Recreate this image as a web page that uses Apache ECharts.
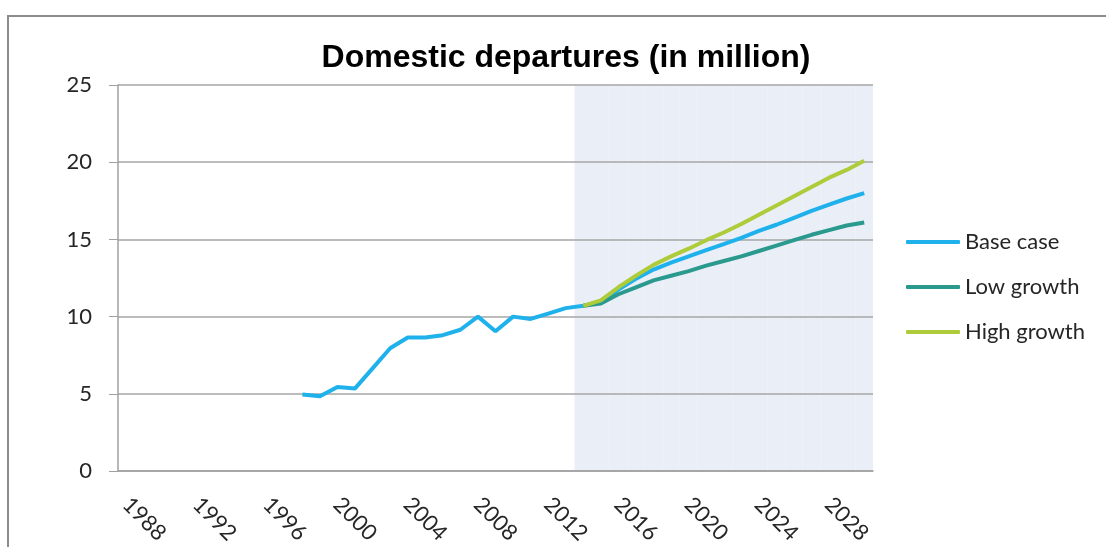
<!DOCTYPE html>
<html>
<head>
<meta charset="utf-8">
<script src="https://cdn.jsdelivr.net/npm/echarts@6/dist/echarts.min.js"></script>
<style>
  html, body { margin: 0; padding: 0; background: #fff; }
  #main { width: 1106px; height: 547px; }
</style>
</head>
<body>
<div id="main"></div>
<script>
// years on the x axis
var years = ['1987', '1988', '1989', '1990', '1991', '1992', '1993', '1994', '1995', '1996',
  '1997', '1998', '1999', '2000', '2001', '2002', '2003', '2004', '2005', '2006',
  '2007', '2008', '2009', '2010', '2011', '2012', '2013', '2014', '2015', '2016',
  '2017', '2018', '2019', '2020', '2021', '2022', '2023', '2024', '2025', '2026',
  '2027', '2028', '2029'];

// history 1997-2013 + base forecast 2014-2029
var baseCase = [null, null, null, null, null, null, null, null, null, null,
  4.95, 4.85, 5.45, 5.35, 6.65, 7.95, 8.65, 8.65, 8.8, 9.15,
  10.0, 9.05, 10.0, 9.85, 10.2, 10.55, 10.7, 10.95, 11.75, 12.45,
  13.05, 13.5, 13.9, 14.3, 14.7, 15.1, 15.55, 15.95, 16.4, 16.85,
  17.25, 17.65, 18.0];

var lowGrowth = [null, null, null, null, null, null, null, null, null, null,
  null, null, null, null, null, null, null, null, null, null,
  null, null, null, null, null, null, 10.7, 10.85, 11.45, 11.9,
  12.35, 12.65, 12.95, 13.3, 13.6, 13.9, 14.25, 14.6, 14.95, 15.3,
  15.6, 15.9, 16.1];

var highGrowth = [null, null, null, null, null, null, null, null, null, null,
  null, null, null, null, null, null, null, null, null, null,
  null, null, null, null, null, null, 10.7, 11.05, 11.9, 12.65,
  13.35, 13.9, 14.4, 14.95, 15.45, 16.0, 16.6, 17.2, 17.8, 18.4,
  19.0, 19.5, 20.1];

var yMin = 0, yMax = 25, yStep = 5;
var forecastFrom = '2013';
var firstLabelYear = 1988, labelEvery = 4;

var chart = echarts.init(document.getElementById('main'));

// forecast period background, drawn as full-height bars
var shade = years.map(function (y) { return Number(y) >= Number(forecastFrom) ? yMax : null; });

var axisGrey = '#a0a0a0';
var option = {
  animation: false,
  backgroundColor: '#fff',
  graphic: [{
    type: 'rect',
    shape: { x: 8, y: 16, width: 1200, height: 600 },
    style: { fill: null, stroke: '#8c8c8c', lineWidth: 2 },
    silent: true
  }],
  title: {
    text: 'Domestic departures (in million)',
    left: 561,
    textAlign: 'center',
    top: 37,
    textStyle: { fontFamily: 'Liberation Sans', fontWeight: 'bold', fontSize: 32, color: '#000' }
  },
  legend: {
    orient: 'vertical',
    left: 901,
    top: 225,
    itemWidth: 54,
    itemHeight: 4,
    itemGap: 21,
    icon: 'roundRect',
    data: ['Base case', 'Low growth', 'High growth'],
    textStyle: { fontFamily: 'Lato', fontSize: 22, color: '#262626', lineHeight: 24 }
  },
  grid: { left: 118, right: 233, top: 85, bottom: 73 },
  xAxis: {
    type: 'category',
    data: years,
    boundaryGap: true,
    axisLine: { lineStyle: { color: axisGrey, width: 1.5 } },
    axisTick: { interval: 0, length: 9, lineStyle: { color: axisGrey } },
    axisLabel: {
      interval: function (i, v) { return (Number(v) - firstLabelYear) % labelEvery === 0; },
      rotate: -45,
      align: 'center',
      verticalAlign: 'middle',
      margin: 48,
      fontFamily: 'Lato',
      fontSize: 22,
      color: '#262626'
    },
    splitLine: { show: false }
  },
  yAxis: {
    type: 'value',
    min: yMin,
    max: yMax,
    interval: yStep,
    axisLine: { show: true, lineStyle: { color: axisGrey, width: 1.5 } },
    axisTick: { show: true, length: 9, lineStyle: { color: axisGrey } },
    axisLabel: { margin: 26, fontFamily: 'Lato', fontSize: 22, color: '#262626' },
    splitLine: { show: true, lineStyle: { color: '#a6a6a6', width: 1.5 } }
  },
  series: [
    {
      name: 'forecast',
      type: 'bar',
      data: shade,
      barWidth: '100%',
      itemStyle: { color: '#eaeff7' },
      z: -1,
      silent: true
    },
    {
      name: 'Base case',
      type: 'line',
      data: baseCase,
      showSymbol: false,
      color: '#1fb1ec',
      lineStyle: { width: 4, color: '#1fb1ec' }
    },
    {
      name: 'Low growth',
      type: 'line',
      data: lowGrowth,
      showSymbol: false,
      color: '#2a9a8e',
      lineStyle: { width: 4, color: '#2a9a8e' }
    },
    {
      name: 'High growth',
      type: 'line',
      data: highGrowth,
      showSymbol: false,
      color: '#aecb3a',
      lineStyle: { width: 4, color: '#aecb3a' }
    }
  ]
};

chart.setOption(option);
</script>
</body>
</html>
